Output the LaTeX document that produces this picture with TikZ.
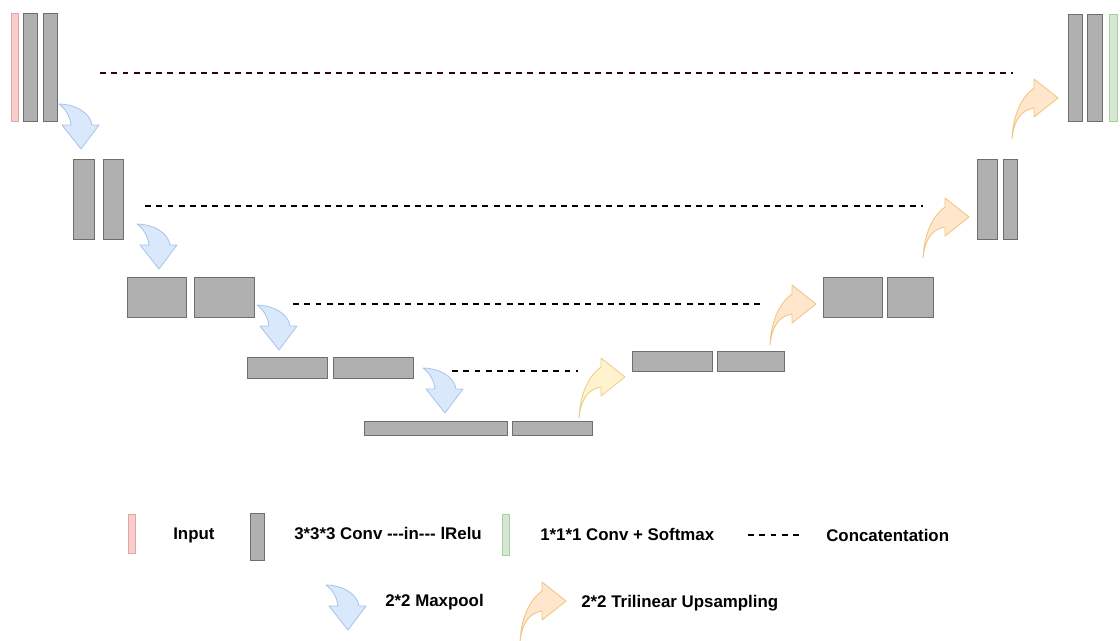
\documentclass[tikz,border=0pt]{standalone}
\usepackage{fontspec}
\setmainfont{Liberation Sans}

\definecolor{convfill}{HTML}{B0B0B0}
\definecolor{convline}{HTML}{6E6E6E}
\definecolor{infill}{HTML}{F8CECC}
\definecolor{inline}{HTML}{E8A4A2}
\definecolor{outfill}{HTML}{D5E8D4}
\definecolor{outline}{HTML}{A9CF9C}
\definecolor{poolfill}{HTML}{DAE8FC}
\definecolor{poolline}{HTML}{A9C4EB}
\definecolor{upfill}{HTML}{FFE6CC}
\definecolor{upline}{HTML}{EEC77E}
\definecolor{up1fill}{HTML}{FFF2CC}
\definecolor{up1line}{HTML}{E8D08A}
\definecolor{skipdark}{HTML}{33001A}

% block from corner (x1,y1) to corner (x2,y2), in pixels
\newcommand{\blk}[6][conv]{%
  \node[#1, minimum width={(#5-#3)*0.025cm}, minimum height={(#6-#4)*0.025cm}]
    (#2) at ({(#3+#5)/2},{(#4+#6)/2}) {};}

% curved maxpool arrow, tail at (#1,#2)
\newcommand{\poolarr}[2]{%
  \draw[pool, shift={(#1,#2)}] (0,0) .. controls (15,0) and (31,8) .. (33,21)
    -- (40,21) -- (22,45) -- (3,21) -- (12,21) .. controls (11,12) and (6,4) .. cycle;}

% curved upsampling arrow, tail at (#2,#3)
\newcommand{\upsarr}[3][ups]{%
  \draw[#1, shift={(#2,#3)}] (0,0) .. controls (1,-20) and (7,-40) .. (22,-51)
    -- (22,-60) -- (46,-41) -- (22,-22) -- (22,-31) .. controls (10,-29) and (2,-20) .. cycle;}

\begin{document}
\begin{tikzpicture}[x=0.025cm, y=-0.025cm,
  conv/.style={draw=convline, fill=convfill, line width=0.7pt, inner sep=0pt, outer sep=0pt},
  inp/.style={conv, draw=inline, fill=infill},
  outp/.style={conv, draw=outline, fill=outfill},
  pool/.style={draw=poolline, fill=poolfill, line width=0.6pt, line join=round},
  ups/.style={draw=upline, fill=upfill, line width=0.6pt, line join=round},
  ups1/.style={draw=up1line, fill=up1fill, line width=0.6pt, line join=round},
  concat/.style={line width=0.9pt, dash pattern=on 4.2pt off 3.8pt},
  lbl/.style={anchor=west, inner sep=0pt, font=\fontsize{12}{14}\selectfont\bfseries}]

  \useasboundingbox (0,0) rectangle (1120,640);

  % encoder side
  \blk[inp]{inp}{11}{13}{18}{121}
  \blk{e1a}{23}{13}{37}{121}
  \blk{e1b}{43}{13}{57}{121}
  \blk{e2a}{73}{159}{94}{239}
  \blk{e2b}{103}{159}{123}{239}
  \blk{e3a}{127}{277}{186}{317}
  \blk{e3b}{194}{277}{254}{317}
  \blk{e4a}{247}{357}{327}{378}
  \blk{e4b}{333}{357}{413}{378}

  % bottom
  \blk{b5a}{364}{421}{507}{435}
  \blk{b5b}{512}{421}{592}{435}

  % decoder side
  \blk{d4a}{632}{351}{712}{371}
  \blk{d4b}{717}{351}{784}{371}
  \blk{d3a}{823}{277}{882}{317}
  \blk{d3b}{887}{277}{933}{317}
  \blk{d2a}{977}{159}{997}{239}
  \blk{d2b}{1003}{159}{1017}{239}
  \blk{d1a}{1068}{14}{1082}{121}
  \blk{d1b}{1087}{14}{1102}{121}
  \blk[outp]{outp}{1109}{14}{1117}{121}

  % skip connections
  \coordinate (s1a) at (100,73);  \coordinate (s1b) at (1013,73);
  \coordinate (s2a) at (145,206); \coordinate (s2b) at (923,206);
  \coordinate (s3a) at (293,304); \coordinate (s3b) at (763,304);
  \coordinate (s4a) at (452,371); \coordinate (s4b) at (578,371);
  \draw[concat, skipdark] (s1a) -- (s1b);
  \draw[concat] (s2a) -- (s2b);
  \draw[concat] (s3a) -- (s3b);
  \draw[concat] (s4a) -- (s4b);

  % maxpool arrows
  \poolarr{59}{104}
  \poolarr{137}{224}
  \poolarr{257}{305}
  \poolarr{423}{368}

  % upsampling arrows
  \upsarr[ups1]{579}{418}
  \upsarr{770}{345}
  \upsarr{923}{258}
  \upsarr{1012}{139}

  % legend
  \blk[inp]{kin}{128}{514}{135}{553}
  \node[lbl] (tin) at (173,535) {Input};
  \blk{kconv}{250}{513}{264}{560}
  \node[lbl] (tconv) at (294,533) {3*3*3 Conv -{}-{}-in-{}-{}- lRelu};
  \blk[outp]{kout}{502}{514}{509}{555}
  \node[lbl] (tout) at (540,534) {1*1*1 Conv + Softmax};
  \coordinate (kca) at (748,535); \coordinate (kcb) at (802,535);
  \draw[concat] (kca) -- (kcb);
  \node[lbl] (tcat) at (826,535) {Concatentation};
  \poolarr{326}{585}
  \node[lbl] (tpool) at (385,602) {2*2 Maxpool};
  \upsarr{520}{642}
  \node[lbl] (tups) at (581,603) {2*2 Trilinear Upsampling};

\end{tikzpicture}
\end{document}
